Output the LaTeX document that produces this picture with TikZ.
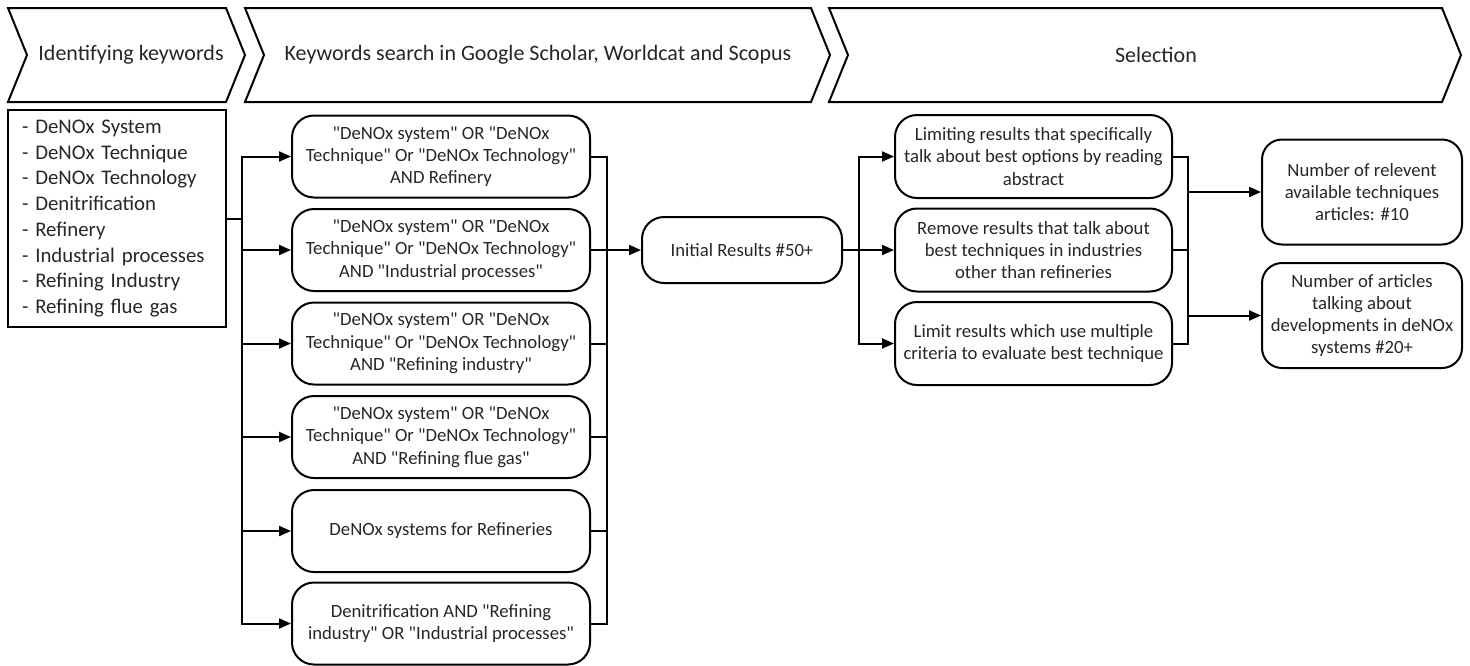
\documentclass[tikz,border=0pt]{standalone}
\usepackage{fontspec}
\setmainfont{Carlito}
\usetikzlibrary{arrows.meta,calc}
% straight double quote, set as a glyph so that no text mapping curls it
\newcommand\dq{\XeTeXglyph\XeTeXcharglyph"22\relax}
\begin{document}
\begin{tikzpicture}[x=0.5pt,y=-0.5pt,
  line width=1pt,
  chev/.style={draw, line width=1pt, line join=miter},
  title/.style={font=\fontsize{11}{13.4}\selectfont, text=black!85, inner sep=0pt},
  rbox/.style={draw, rounded corners=11pt, align=center, inner sep=0pt,
    font=\fontsize{9.35}{11.15}\selectfont, text=black!85},
  qbox/.style={rbox, minimum width=149pt, minimum height=41pt},
  sbox/.style={rbox, minimum width=138.5pt, minimum height=41.5pt},
  resbox/.style={rbox, rounded corners=10pt, minimum width=100pt, minimum height=52.5pt},
  conn/.style={-{Triangle[length=6pt,width=5pt]}},
]
\useasboundingbox (0,0) rectangle (1470,665);

% phase banners
\draw[chev] (8,8) -- (226,8) -- (245,55) -- (226,102) -- (8,102) -- (27,55) -- cycle;
\draw[chev] (245,8) -- (811,8) -- (830,55) -- (811,102) -- (245,102) -- (264,55) -- cycle;
\draw[chev] (829,8) -- (1442,8) -- (1461,55) -- (1442,102) -- (829,102) -- (848,55) -- cycle;
\node[title] (t1) at (131,55) {Identifying keywords};
\node[title] (t2) at (538,55) {Keywords search in Google Scholar, Worldcat and Scopus};
\node[title] (t3) at (1156,55) {Selection};

% keyword list
\node[draw, text width=95pt, inner xsep=7pt, inner ysep=0pt, minimum height=108.5pt,
  align=left, font=\fontsize{10.4}{12.85}\selectfont, text=black!85] (kw) at (117,218.5)
  {- DeNOx System\\
   - DeNOx Technique\\
   - DeNOx Technology\\
   - Denitrification\\
   - Refinery\\
   - Industrial processes\\
   - Refining Industry\\
   - Refining flue gas};

% search queries
\node[qbox] (q1) at (441,156.5) {\dq DeNOx system\dq{} OR \dq DeNOx\\Technique\dq{} Or \dq DeNOx Technology\dq\\AND Refinery};
\node[qbox] (q2) at (441,250) {\dq DeNOx system\dq{} OR \dq DeNOx\\Technique\dq{} Or \dq DeNOx Technology\dq\\AND \dq Industrial processes\dq};
\node[qbox] (q3) at (441,343.5) {\dq DeNOx system\dq{} OR \dq DeNOx\\Technique\dq{} Or \dq DeNOx Technology\dq\\AND \dq Refining industry\dq};
\node[qbox] (q4) at (441,437) {\dq DeNOx system\dq{} OR \dq DeNOx\\Technique\dq{} Or \dq DeNOx Technology\dq\\AND \dq Refining flue gas\dq};
\node[qbox] (q5) at (441,531) {DeNOx systems for Refineries};
\node[qbox] (q6) at (441,623.5) {Denitrification AND \dq Refining\\industry\dq{} OR \dq Industrial processes\dq};

% initial results
\node[rbox, minimum width=100pt, minimum height=33pt] (init) at (742,250) {Initial Results \#50+};

% selection steps
\node[sbox] (s1) at (1033.5,156.5) {Limiting results that specifically\\talk about best options by reading\\abstract};
\node[sbox] (s2) at (1033.5,250) {Remove results that talk about\\best techniques in industries\\other than refineries};
\node[sbox] (s3) at (1033.5,343.5) {Limit results which use multiple\\criteria to evaluate best technique};

% outcomes
\node[resbox] (r1) at (1362,192) {Number of relevent\\available techniques\\articles: \#10};
\node[resbox] (r2) at (1362,315.5) {Number of articles\\talking about\\developments in deNOx\\systems \#20+};

% keywords -> queries
\coordinate (busL) at (242,218.5);
\draw (kw.east) -- (busL);
\foreach \q in {q1,q2,q3,q4,q5,q6}
  \draw[conn] (busL) |- (\q.west);

% queries -> initial results
\coordinate (busR) at (607,250);
\draw[conn] (q2.east) -- (init.west);
\foreach \q in {q1,q3,q4,q5,q6}
  \draw (\q.east) -| (busR);

% initial results -> selection steps
\coordinate (busS) at (859,250);
\draw (init.east) -- (busS);
\foreach \s in {s1,s2,s3}
  \draw[conn] (busS) |- (\s.west);

% selection steps -> outcomes
\coordinate (jA) at (1188,192);
\coordinate (jB) at (1188,315.5);
\draw (s1.east) -| (jB);
\draw (s2.east) -- (s2.east -| jB);
\draw (s3.east) -| (jB);
\draw[conn] (jA) -- (r1.west);
\draw[conn] (jB) -- (r2.west);
\end{tikzpicture}
\end{document}
